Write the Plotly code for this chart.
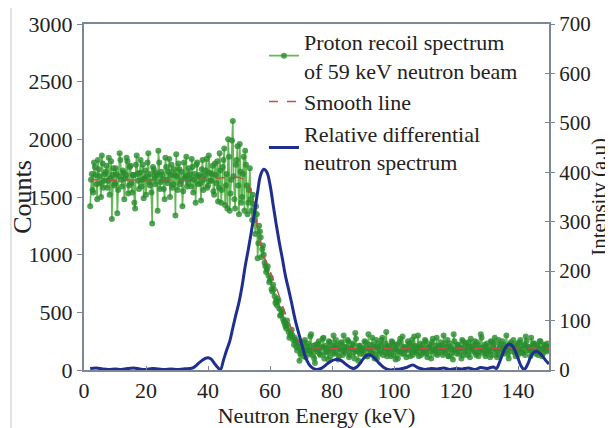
import plotly.graph_objects as go

# ---- Data ----
# Proton recoil spectrum (green): readings at 2.0, 2.5, ... 150 keV (A)
# and at 2.25, 2.75, ... 149.75 keV (B)
green_counts_a = [
    1420, 1700, 1540, 1760, 1610, 1820, 1680, 1500, 1790, 1640,
    1720, 1580, 1840, 1660, 1310, 1750, 1620, 1700, 1560, 1880,
    1650, 1730, 1480, 1690, 1810, 1600, 1770, 1540, 1690, 1400,
    1860, 1640, 1710, 1590, 1780, 1660, 1520, 1800, 1630, 1700,
    1270, 1740, 1610, 1690, 1900, 1570, 1720, 1650, 1480, 1760,
    1620, 1830, 1690, 1580, 1740, 1340, 1680, 1790, 1610, 1720,
    1550, 1660, 1850, 1630, 1700, 1590, 1760, 1650, 1450, 1800,
    1680, 1620, 1740, 1560, 1690, 1830, 1600, 1710, 1640, 1770,
    1520, 1690, 1810, 1580, 1730,
    1560, 1820, 1430, 1700, 2000, 1380, 1650, 2160, 1480, 1780,
    1940, 1350, 1720, 1500, 1850, 1900,
    1600, 1450, 1750, 1380, 1520, 1300, 1420, 970, 1250, 1150,
    1050, 1000, 900, 870, 820, 780, 700, 740, 640, 600,
    620, 530, 480, 500, 420, 380, 430, 330, 300, 350,
    260, 280, 200, 240, 80, 180,
    150, 240, 110, 200, 170, 290, 130, 210, 60, 180,
    230, 140, 190, 270, 100, 210, 160, 250, 120, 190,
    300, 150, 220, 90, 180, 240, 130, 200, 170, 260,
    110, 190, 230, 150, 320, 170, 80, 210, 180, 140,
    250, 190, 120, 220, 160, 280, 140, 200, 100, 230,
    170, 260, 130, 190, 330, 150, 210, 120, 240, 180,
    90, 220, 160, 270, 140, 200, 180, 110, 250, 170,
    210, 130, 290, 160, 200, 120, 230, 180, 150, 260,
    140, 190, 220, 100, 270, 170, 210, 130, 190, 240,
    160, 300, 150, 200, 120, 230, 180, 90, 250, 170,
    220, 140, 190, 260, 130, 210, 170, 240, 110, 200,
    180, 250, 130, 220, 160, 310, 150, 200, 120, 230,
    170, 110, 240, 190, 280, 160, 130, 220, 180, 250,
    140, 200, 170, 100, 230, 190, 260, 150, 210, 130,
    240, 180, 150, 220, 290, 170, 200, 120, 190, 230,
    160, 210, 130, 250, 180, 140, 220, 170, 230, 200,
]
green_counts_b = [
    1650, 1560, 1800, 1690, 1480, 1740, 1620, 1860, 1580, 1700,
    1770, 1640, 1520, 1810, 1690, 1600, 1750, 1360, 1680, 1820,
    1590, 1710, 1660, 1840, 1530, 1760, 1620, 1690, 1450, 1780,
    1700, 1570, 1820, 1650, 1490, 1730, 1680, 1880, 1600, 1540,
    1760, 1660, 1710, 1380, 1800, 1630, 1690, 1570, 1840, 1650,
    1720, 1500, 1780, 1610, 1690, 1870, 1560, 1740, 1640, 1420,
    1800, 1680, 1590, 1750, 1660, 1830, 1540, 1700, 1780, 1610,
    1690, 1470, 1820, 1650, 1730, 1580, 1860, 1640, 1700, 1550,
    1790, 1620, 1460, 1880,
    1450, 1760, 1920, 1600, 1400, 1850, 1530, 1990, 1680, 1400,
    1820, 1600, 1960, 1450, 1700, 1380,
    1780, 1350, 1560, 1480, 1300, 1440, 1180, 1350, 1100, 1200,
    980, 1080, 930, 850, 900, 760, 800, 680, 700, 580,
    560, 600, 470, 520, 440, 400, 360, 390, 280, 320,
    300, 220, 260, 170, 230, 140,
    200, 120, 260, 170, 230, 140, 310, 180, 100, 220,
    160, 250, 130, 200, 280, 150, 190, 90, 240, 170,
    210, 140, 260, 190, 120, 230, 170, 300, 150, 200,
    250, 130, 180, 220, 100, 270, 160, 210, 140, 190,
    170, 240, 120, 310, 180, 150, 220, 100, 260, 190,
    140, 210, 280, 160, 230, 120, 200, 170, 250, 130,
    220, 180, 100, 240, 160, 290, 140, 200, 180, 230,
    120, 260, 170, 210, 150, 300, 190, 130, 220, 170,
    250, 110, 200, 160, 240, 180, 140, 280, 150, 210,
    190, 130, 230, 170, 260, 120, 200, 150, 310, 180,
    140, 220, 190, 100, 250, 170, 230, 130, 200, 270,
    160, 210, 150, 240, 120, 190, 280, 170, 220, 140,
    200, 160, 250, 130, 230, 180, 110, 260, 190, 150,
    220, 170, 300, 140, 200, 240, 160, 190, 120, 230,
    180, 260, 150, 210, 130, 250, 200, 170, 280, 160,
    230, 140, 210, 180, 250, 120, 190, 220, 160, 200,
]
green_x_a = [2 + 0.5 * i for i in range(len(green_counts_a))]
green_x_b = [2.25 + 0.5 * i for i in range(len(green_counts_b))]

# Smooth line (red)
smooth_x = [2, 10, 20, 30, 40, 45, 48, 50, 52, 53, 54, 55, 56, 57, 58, 60, 62, 64,
            66, 68, 70, 72, 75, 80, 90, 100, 110, 120, 130, 140, 150]
smooth_counts = [1650, 1645, 1650, 1648, 1655, 1665, 1675, 1670, 1650, 1610, 1540,
                 1420, 1230, 1090, 990, 860, 720, 560, 410, 300, 225, 200, 190, 185,
                 185, 190, 185, 190, 185, 185, 190]

# Relative differential neutron spectrum (blue, right axis)
blue_x = [2, 4, 6, 8, 10, 12, 14, 16, 18, 20, 22, 24, 26, 28, 30, 32, 34,
          35, 36, 37, 38, 39, 40, 41, 42, 43, 44, 45, 46, 47, 48, 49, 50,
          51, 52, 53, 54, 55, 56, 57, 58, 59, 60, 61, 62, 63, 64, 65, 66,
          67, 68, 69, 70, 71, 72, 73, 74, 75, 76, 77, 78, 79, 80, 81, 82,
          83, 84, 85, 86, 87, 88, 89, 90, 91, 92, 93, 94, 95, 96, 97, 98,
          99, 100, 102, 104, 106, 108, 110, 112, 114, 116, 118, 120, 122,
          124, 126, 128, 130, 132, 133, 134, 135, 136, 137, 138, 139, 140,
          141, 142, 143, 144, 145, 146, 147, 148, 149, 150]
blue_intensity = [3, 4, 2, 1, 2, 1, 3, 4, 2, 1, 3, 2, 1, 2, 1, 2, 3,
                  4, 8, 14, 19, 23, 25, 22, 14, 6, 1, 20, 40, 58, 85, 112, 137,
                  170, 210, 244, 280, 318, 360, 395, 406, 400, 375, 335, 295, 258, 225, 190, 163,
                  135, 105, 80, 58, 35, 18, 8, 3, 1, 2, 5, 10, 15, 19, 21, 21,
                  19, 14, 9, 5, 3, 6, 13, 22, 29, 31, 28, 22, 15, 9, 4, 1,
                  0, 1, 2, 5, 10, 4, 1, 3, 2, 4, 1, 3, 2,
                  4, 1, 5, 3, 6, 3, 15, 32, 46, 52, 50, 40, 24,
                  8, 1, 10, 25, 35, 38, 34, 27, 19, 12]

x_ticks = [0, 20, 40, 60, 80, 100, 120, 140]
y_ticks = [0, 500, 1000, 1500, 2000, 2500, 3000]
y2_ticks = [0, 100, 200, 300, 400, 500, 600, 700]

# interleave the two green reading sets in x order
green_x, green_counts = [], []
for i in range(len(green_counts_a)):
    green_x.append(green_x_a[i]); green_counts.append(green_counts_a[i])
    if i < len(green_counts_b):
        green_x.append(green_x_b[i]); green_counts.append(green_counts_b[i])

FONT = "Liberation Serif, Times New Roman, serif"
AXIS_COLOR = "#7d8896"
FS = 22

fig = go.Figure()
fig.add_trace(go.Scatter(
    x=green_x, y=green_counts, mode="lines+markers", legendgroup="g1",
    name="Proton recoil spectrum<br>of 59 keV neutron beam",
    line=dict(color="rgba(85,175,70,0.9)", width=1.6),
    marker=dict(color="rgba(40,140,45,0.8)", size=6),
))
fig.add_trace(go.Scatter(
    x=smooth_x, y=smooth_counts, mode="lines", name="Smooth line", legendgroup="g2",
    line=dict(color="#c0504d", width=1.4, dash="dash"),
))
fig.add_trace(go.Scatter(
    x=blue_x, y=blue_intensity, mode="lines", yaxis="y2", legendgroup="g3",
    name="Relative differential<br>neutron spectrum",
    line=dict(color="#1f2f8f", width=3, shape="spline"),
))
# helper axis for the inner half of the right-axis cross ticks
fig.add_trace(go.Scatter(x=[None], y=[None], yaxis="y3", showlegend=False,
                         hoverinfo="skip"))

fig.update_layout(
    width=613, height=428,
    margin=dict(l=76, r=72, t=16, b=66),
    paper_bgcolor="white", plot_bgcolor="white",
    font=dict(family=FONT, size=FS, color="#222"),
    showlegend=True,
    legend=dict(x=0.387, y=1.01, xanchor="left", yanchor="top",
                bgcolor="rgba(0,0,0,0)", font=dict(family=FONT, size=FS),
                itemwidth=30, tracegroupgap=0),
    xaxis=dict(range=[0, 150], tickvals=x_ticks, ticks="inside", ticklen=4,
               showgrid=False, zeroline=False, showline=True, linecolor=AXIS_COLOR,
               linewidth=2, mirror=True, tickcolor=AXIS_COLOR, automargin=False,
               title=dict(text="Neutron Energy (keV)", standoff=0,
                          font=dict(size=22))),
    yaxis=dict(range=[0, 3000], tickvals=y_ticks, ticks="outside", ticklen=5,
               showgrid=False, zeroline=False, showline=True, linecolor=AXIS_COLOR,
               linewidth=2, tickcolor=AXIS_COLOR, automargin=False,
               title=dict(text="Counts", standoff=8)),
    yaxis2=dict(range=[0, 700], tickvals=y2_ticks, ticks="outside", ticklen=4,
                overlaying="y", side="right", showgrid=False, zeroline=False,
                showline=True, linecolor=AXIS_COLOR, linewidth=2, tickcolor=AXIS_COLOR,
                automargin=False, tickfont=dict(size=21)),
    yaxis3=dict(range=[0, 700], tickvals=y2_ticks, ticks="inside", ticklen=4,
                overlaying="y", side="right", showgrid=False, zeroline=False,
                showline=False, showticklabels=False, tickcolor=AXIS_COLOR,
                automargin=False),
)

# right-axis title placed as an annotation so it stays inside the picture
fig.add_annotation(text="Intensity (a.u)", xref="paper", yref="paper",
                   x=1.107, y=0.5, xanchor="center", yanchor="middle",
                   textangle=-90, showarrow=False, font=dict(size=21))

# thin page border line at the left edge of the figure
fig.add_shape(type="line", xref="paper", yref="paper",
              x0=-0.157, x1=-0.157, y0=-0.2, y1=1.05,
              line=dict(color="#c8c8c8", width=1))

fig.write_html("out.html")
